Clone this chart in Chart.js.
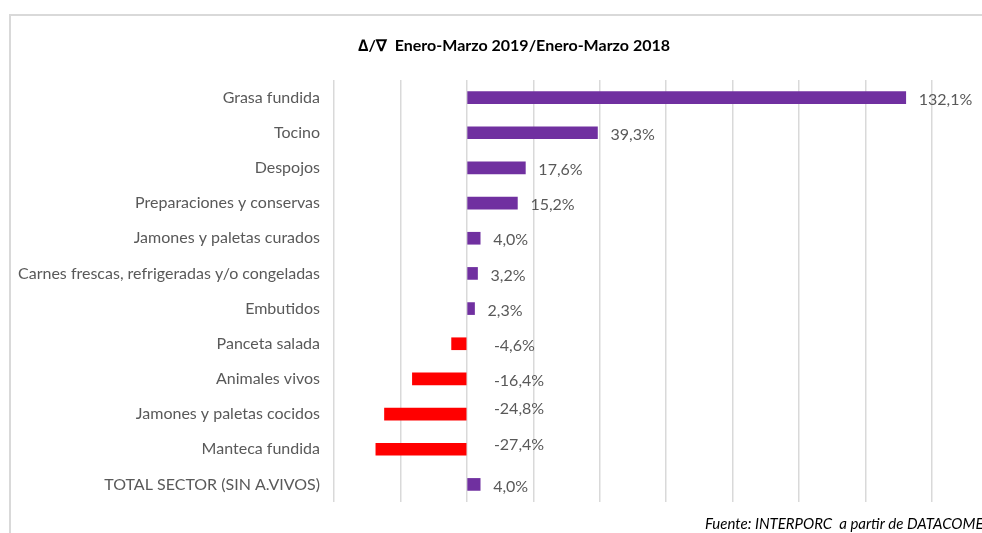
<!DOCTYPE html>
<html>
<head>
  <title>Enero-Marzo 2019/Enero-Marzo 2018</title>
  <script src="https://cdn.jsdelivr.net/npm/chart.js"></script>
  <style>
    body { margin: 0; padding: 0; background: #fff; }
    .wrap { width: 982px; height: 533px; position: relative; overflow: hidden; }
    #chart { display: block; }
  </style>
</head>
<body>
  <div class="wrap">
    <canvas id="chart" width="982" height="533"></canvas>
  </div>
  <script>
    // --- DATA ---
    const categories = [
      'Grasa fundida',
      'Tocino',
      'Despojos',
      'Preparaciones y conservas',
      'Jamones y paletas curados',
      'Carnes frescas, refrigeradas y/o congeladas',
      'Embutidos',
      'Panceta salada',
      'Animales vivos',
      'Jamones y paletas cocidos',
      'Manteca fundida',
      'TOTAL SECTOR (SIN A.VIVOS)'
    ];
    const variation = [132.1, 39.3, 17.6, 15.2, 4.0, 3.2, 2.3, -4.6, -16.4, -24.8, -27.4, 4.0];

    const titleText = '\u2206/\u2207  Enero-Marzo 2019/Enero-Marzo 2018';
    const sourceText = 'Fuente: INTERPORC  a partir de DATACOMEX';

    // colours
    const purple = '#7030A0';
    const red = '#FF0000';
    const textGrey = '#595959';
    const gridGrey = '#d9d9d9';
    const font = 'Lato, "Open Sans", sans-serif';

    // label text like "132,1%"
    const fmt = v => v.toFixed(1).replace('.', ',') + '%';

    // frame, title, source and value labels
    const decorations = {
      id: 'decorations',
      afterDraw(chart, args, opts) {
        const c = chart.ctx;
        c.save();
        // light frame (runs off the right and bottom edges)
        c.strokeStyle = gridGrey;
        c.lineWidth = 2;
        c.beginPath();
        c.moveTo(10, chart.height);
        c.lineTo(10, 15);
        c.lineTo(chart.width, 15);
        c.stroke();

        // title
        c.fillStyle = '#000';
        c.font = 'bold 16px ' + font;
        c.textAlign = 'center';
        c.textBaseline = 'middle';
        c.fillText(titleText, 514, 46);

        // source
        c.fillStyle = '#000';
        c.font = 'italic 15px ' + font;
        c.textAlign = 'left';
        c.fillText(sourceText, 705, 524);

        // value labels
        const xs = chart.scales.x;
        const meta = chart.getDatasetMeta(0);
        c.fillStyle = textGrey;
        c.font = '16px ' + font;
        c.textAlign = 'left';
        variation.forEach((v, i) => {
          const bar = meta.data[i];
          const x = v >= 0 ? xs.getPixelForValue(v) + 13 : xs.getPixelForValue(0) + 27;
          const y = bar.y + 2 + (opts.nudge[i] || 0);
          c.fillText(fmt(v), x, y);
        });
        c.restore();
      }
    };

    const ctx = document.getElementById('chart').getContext('2d');
    const chart = new Chart(ctx, {
      type: 'bar',
      data: {
        labels: categories,
        datasets: [{
          data: variation,
          backgroundColor: variation.map(v => v >= 0 ? purple : red),
          borderWidth: 0,
          barThickness: 12
        }]
      },
      options: {
        indexAxis: 'y',
        responsive: false,
        animation: false,
        layout: { padding: { top: 80, right: 50, bottom: 31, left: 0 } },
        plugins: {
          legend: { display: false },
          title: { display: false },
          tooltip: { enabled: false },
          decorations: { nudge: { 9: -7, 10: -6 } }
        },
        scales: {
          x: {
            min: -40,
            max: 140,
            ticks: { display: false, stepSize: 20 },
            grid: { color: gridGrey, lineWidth: 1.5, drawTicks: false },
            border: { display: false }
          },
          y: {
            afterFit(scale) { scale.width = 334; },
            ticks: {
              color: textGrey,
              padding: 14,
              font: { family: font, size: 16 }
            },
            grid: { display: false, drawTicks: false },
            border: { display: false }
          }
        }
      },
      plugins: [decorations]
    });
  </script>
</body>
</html>
